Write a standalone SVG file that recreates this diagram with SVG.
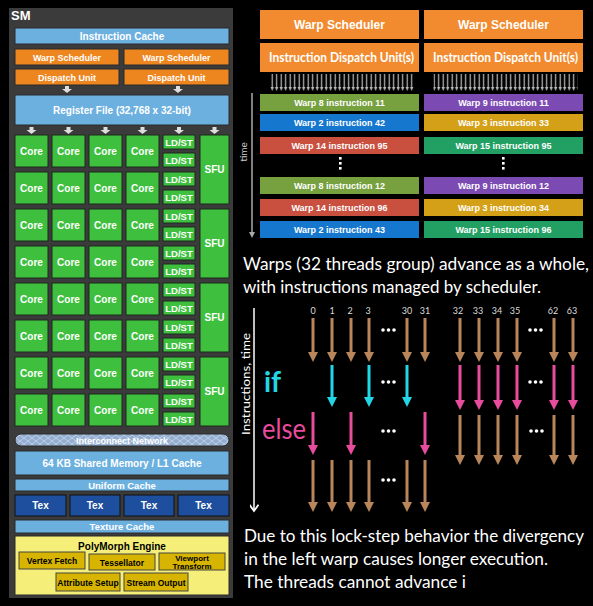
<svg xmlns="http://www.w3.org/2000/svg" width="593" height="606" viewBox="0 0 593 606">
<defs>
<style>
.sb{font-family:"Liberation Sans",Arial,sans-serif;font-weight:bold;text-anchor:middle}
.w{fill:#fff}
.k{fill:#000}
.lb{fill:#6cb0e0;stroke:#2a2a2a;stroke-width:1}
.or{fill:#ee8620;stroke:#2a2a2a;stroke-width:1}
.core{fill:#3ebf3e;stroke:#1c2a1c;stroke-width:1}
.tex{fill:#1d4f9e;stroke:#111;stroke-width:1}
.pm{fill:#d6b400;stroke:#444;stroke-width:1}
.ct{font-size:10px}
.ls{font-size:9.5px}
.cal{font-family:Lato,"Open Sans",sans-serif}
.bar{stroke:none}
.bt{font-size:9px}
.br{stroke:#b8865a;stroke-width:3;marker-end:url(#mBr)}
.cy{stroke:#22d6e6;stroke-width:3;marker-end:url(#mCy)}
.pk{stroke:#e84c9c;stroke-width:3;marker-end:url(#mPk)}
.num{font-family:Lato,"Open Sans",sans-serif;font-size:9px;fill:#ddd;text-anchor:middle}
.dot{fill:#fff}
</style>
<marker id="mBr" viewBox="0 0 10 10" refX="0" refY="5" markerWidth="10" markerHeight="10" markerUnits="userSpaceOnUse" orient="auto"><path d="M0,0 L10,5 L0,10 z" fill="#b8865a"/></marker>
<marker id="mCy" viewBox="0 0 10 10" refX="0" refY="5" markerWidth="10" markerHeight="10" markerUnits="userSpaceOnUse" orient="auto"><path d="M0,0 L10,5 L0,10 z" fill="#22d6e6"/></marker>
<marker id="mPk" viewBox="0 0 10 10" refX="0" refY="5" markerWidth="10" markerHeight="10" markerUnits="userSpaceOnUse" orient="auto"><path d="M0,0 L10,5 L0,10 z" fill="#e84c9c"/></marker>
<marker id="mGr" viewBox="0 0 10 10" refX="0" refY="5" markerWidth="6" markerHeight="6" markerUnits="userSpaceOnUse" orient="auto"><path d="M0,0 L10,5 L0,10 z" fill="#aaa"/></marker>
<marker id="mWh" viewBox="0 0 10 10" refX="8" refY="5" markerWidth="9" markerHeight="9" markerUnits="userSpaceOnUse" orient="auto"><path d="M1,0 L8,5 L1,10" fill="none" stroke="#fff" stroke-width="2"/></marker>
<pattern id="pArr" patternUnits="userSpaceOnUse" x="270" y="74" width="4.5" height="18"><rect x="1.6" y="0" width="1.2" height="14" fill="#bbb"/><path d="M0.5,13 L3.9,13 L2.2,17 z" fill="#bbb"/></pattern>
<pattern id="pNet" patternUnits="userSpaceOnUse" width="8" height="6"><rect width="8" height="6" fill="#93aed0"/><path d="M0,0 L8,6 M8,0 L0,6" stroke="#c6d6ea" stroke-width="0.8"/></pattern>
<path id="sArr" d="M-2,0 L2,0 L2,3 L5,3 L0,7 L-5,3 L-2,3 z" fill="#ddd"/>
</defs>
<rect width="593" height="606" fill="#000"/>

<!-- Left SM panel -->
<g id="sm">
<rect x="9" y="8" width="224" height="590" fill="#3b3b3b"/>
<text x="11" y="20" class="sb w" style="text-anchor:start;font-size:13px">SM</text>
</g>
<g id="icache"><rect class="lb" x="15" y="28" width="214" height="16"/><text class="sb w" x="122" y="40" font-size="10">Instruction Cache</text></g>
<g id="ws1"><rect class="or" x="15" y="49" width="104" height="16"/><text class="sb w" x="67" y="60.5" font-size="9">Warp Scheduler</text></g>
<g id="ws2"><rect class="or" x="124" y="49" width="105" height="16"/><text class="sb w" x="176.5" y="60.5" font-size="9">Warp Scheduler</text></g>
<g id="du1"><rect class="or" x="15" y="69" width="104" height="16"/><text class="sb w" x="67" y="80.5" font-size="9">Dispatch Unit</text></g>
<g id="du2"><rect class="or" x="124" y="69" width="105" height="16"/><text class="sb w" x="176.5" y="80.5" font-size="9">Dispatch Unit</text></g>
<g id="regfile"><rect class="lb" x="15" y="95" width="214" height="30"/><text class="sb w" x="122" y="113.5" font-size="10">Register File (32,768 x 32-bit)</text></g>

<g id="connectors-sm">
<use href="#sArr" x="67" y="86"/><use href="#sArr" x="178" y="86"/>
<use href="#sArr" x="31.5" y="127"/><use href="#sArr" x="68.5" y="127"/><use href="#sArr" x="105.5" y="127"/><use href="#sArr" x="142.5" y="127"/><use href="#sArr" x="179" y="127"/><use href="#sArr" x="214.5" y="127"/>
</g>

<g id="cores">
<g id="core-1"><rect class="core" x="15" y="135" width="33" height="32"/><text class="sb w ct" x="31.5" y="155">Core</text></g>
<g id="core-2"><rect class="core" x="52" y="135" width="33" height="32"/><text class="sb w ct" x="68.5" y="155">Core</text></g>
<g id="core-3"><rect class="core" x="89" y="135" width="33" height="32"/><text class="sb w ct" x="105.5" y="155">Core</text></g>
<g id="core-4"><rect class="core" x="126" y="135" width="33" height="32"/><text class="sb w ct" x="142.5" y="155">Core</text></g>
<g id="core-5"><rect class="core" x="15" y="172" width="33" height="32"/><text class="sb w ct" x="31.5" y="192">Core</text></g>
<g id="core-6"><rect class="core" x="52" y="172" width="33" height="32"/><text class="sb w ct" x="68.5" y="192">Core</text></g>
<g id="core-7"><rect class="core" x="89" y="172" width="33" height="32"/><text class="sb w ct" x="105.5" y="192">Core</text></g>
<g id="core-8"><rect class="core" x="126" y="172" width="33" height="32"/><text class="sb w ct" x="142.5" y="192">Core</text></g>
<g id="core-9"><rect class="core" x="15" y="209" width="33" height="32"/><text class="sb w ct" x="31.5" y="229">Core</text></g>
<g id="core-10"><rect class="core" x="52" y="209" width="33" height="32"/><text class="sb w ct" x="68.5" y="229">Core</text></g>
<g id="core-11"><rect class="core" x="89" y="209" width="33" height="32"/><text class="sb w ct" x="105.5" y="229">Core</text></g>
<g id="core-12"><rect class="core" x="126" y="209" width="33" height="32"/><text class="sb w ct" x="142.5" y="229">Core</text></g>
<g id="core-13"><rect class="core" x="15" y="246" width="33" height="32"/><text class="sb w ct" x="31.5" y="266">Core</text></g>
<g id="core-14"><rect class="core" x="52" y="246" width="33" height="32"/><text class="sb w ct" x="68.5" y="266">Core</text></g>
<g id="core-15"><rect class="core" x="89" y="246" width="33" height="32"/><text class="sb w ct" x="105.5" y="266">Core</text></g>
<g id="core-16"><rect class="core" x="126" y="246" width="33" height="32"/><text class="sb w ct" x="142.5" y="266">Core</text></g>
<g id="core-17"><rect class="core" x="15" y="283" width="33" height="32"/><text class="sb w ct" x="31.5" y="303">Core</text></g>
<g id="core-18"><rect class="core" x="52" y="283" width="33" height="32"/><text class="sb w ct" x="68.5" y="303">Core</text></g>
<g id="core-19"><rect class="core" x="89" y="283" width="33" height="32"/><text class="sb w ct" x="105.5" y="303">Core</text></g>
<g id="core-20"><rect class="core" x="126" y="283" width="33" height="32"/><text class="sb w ct" x="142.5" y="303">Core</text></g>
<g id="core-21"><rect class="core" x="15" y="320" width="33" height="32"/><text class="sb w ct" x="31.5" y="340">Core</text></g>
<g id="core-22"><rect class="core" x="52" y="320" width="33" height="32"/><text class="sb w ct" x="68.5" y="340">Core</text></g>
<g id="core-23"><rect class="core" x="89" y="320" width="33" height="32"/><text class="sb w ct" x="105.5" y="340">Core</text></g>
<g id="core-24"><rect class="core" x="126" y="320" width="33" height="32"/><text class="sb w ct" x="142.5" y="340">Core</text></g>
<g id="core-25"><rect class="core" x="15" y="357" width="33" height="32"/><text class="sb w ct" x="31.5" y="377">Core</text></g>
<g id="core-26"><rect class="core" x="52" y="357" width="33" height="32"/><text class="sb w ct" x="68.5" y="377">Core</text></g>
<g id="core-27"><rect class="core" x="89" y="357" width="33" height="32"/><text class="sb w ct" x="105.5" y="377">Core</text></g>
<g id="core-28"><rect class="core" x="126" y="357" width="33" height="32"/><text class="sb w ct" x="142.5" y="377">Core</text></g>
<g id="core-29"><rect class="core" x="15" y="394" width="33" height="32"/><text class="sb w ct" x="31.5" y="414">Core</text></g>
<g id="core-30"><rect class="core" x="52" y="394" width="33" height="32"/><text class="sb w ct" x="68.5" y="414">Core</text></g>
<g id="core-31"><rect class="core" x="89" y="394" width="33" height="32"/><text class="sb w ct" x="105.5" y="414">Core</text></g>
<g id="core-32"><rect class="core" x="126" y="394" width="33" height="32"/><text class="sb w ct" x="142.5" y="414">Core</text></g>
</g>

<g id="ldst">
<g id="ldst-1"><rect class="core" x="163" y="135" width="32" height="14"/><text class="sb w ls" x="179" y="145.5">LD/ST</text></g>
<g id="ldst-2"><rect class="core" x="163" y="153" width="32" height="14"/><text class="sb w ls" x="179" y="163.5">LD/ST</text></g>
<g id="ldst-3"><rect class="core" x="163" y="172" width="32" height="14"/><text class="sb w ls" x="179" y="182.5">LD/ST</text></g>
<g id="ldst-4"><rect class="core" x="163" y="190" width="32" height="14"/><text class="sb w ls" x="179" y="200.5">LD/ST</text></g>
<g id="ldst-5"><rect class="core" x="163" y="209" width="32" height="14"/><text class="sb w ls" x="179" y="219.5">LD/ST</text></g>
<g id="ldst-6"><rect class="core" x="163" y="227" width="32" height="14"/><text class="sb w ls" x="179" y="237.5">LD/ST</text></g>
<g id="ldst-7"><rect class="core" x="163" y="246" width="32" height="14"/><text class="sb w ls" x="179" y="256.5">LD/ST</text></g>
<g id="ldst-8"><rect class="core" x="163" y="264" width="32" height="14"/><text class="sb w ls" x="179" y="274.5">LD/ST</text></g>
<g id="ldst-9"><rect class="core" x="163" y="283" width="32" height="14"/><text class="sb w ls" x="179" y="293.5">LD/ST</text></g>
<g id="ldst-10"><rect class="core" x="163" y="301" width="32" height="14"/><text class="sb w ls" x="179" y="311.5">LD/ST</text></g>
<g id="ldst-11"><rect class="core" x="163" y="320" width="32" height="14"/><text class="sb w ls" x="179" y="330.5">LD/ST</text></g>
<g id="ldst-12"><rect class="core" x="163" y="338" width="32" height="14"/><text class="sb w ls" x="179" y="348.5">LD/ST</text></g>
<g id="ldst-13"><rect class="core" x="163" y="357" width="32" height="14"/><text class="sb w ls" x="179" y="367.5">LD/ST</text></g>
<g id="ldst-14"><rect class="core" x="163" y="375" width="32" height="14"/><text class="sb w ls" x="179" y="385.5">LD/ST</text></g>
<g id="ldst-15"><rect class="core" x="163" y="394" width="32" height="14"/><text class="sb w ls" x="179" y="404.5">LD/ST</text></g>
<g id="ldst-16"><rect class="core" x="163" y="412" width="32" height="14"/><text class="sb w ls" x="179" y="422.5">LD/ST</text></g>
</g>

<g id="sfu">
<g id="sfu-1"><rect class="core" x="200" y="135" width="29" height="69"/><text class="sb w ct" x="214.5" y="173">SFU</text></g>
<g id="sfu-2"><rect class="core" x="200" y="209" width="29" height="69"/><text class="sb w ct" x="214.5" y="247">SFU</text></g>
<g id="sfu-3"><rect class="core" x="200" y="283" width="29" height="69"/><text class="sb w ct" x="214.5" y="321">SFU</text></g>
<g id="sfu-4"><rect class="core" x="200" y="357" width="29" height="69"/><text class="sb w ct" x="214.5" y="395">SFU</text></g>
</g>

<g id="interconnect"><rect x="15" y="434" width="214" height="12" rx="6" fill="url(#pNet)" stroke="#2a2a2a"/><text class="sb w" x="122" y="443.5" font-size="9">Interconnect Network</text></g>
<g id="shmem"><rect class="lb" x="15" y="451" width="214" height="24"/><text class="sb w" x="122" y="466.5" font-size="10">64 KB Shared Memory / L1 Cache</text></g>
<g id="ucache"><rect class="lb" x="15" y="479" width="214" height="12"/><text class="sb w" x="122" y="488.5" font-size="9.5">Uniform Cache</text></g>
<g id="tex-1"><rect class="tex" x="15" y="495" width="51" height="21"/><text class="sb w ct" x="40.5" y="509">Tex</text></g>
<g id="tex-2"><rect class="tex" x="70" y="495" width="50" height="21"/><text class="sb w ct" x="95" y="509">Tex</text></g>
<g id="tex-3"><rect class="tex" x="124" y="495" width="50" height="21"/><text class="sb w ct" x="149" y="509">Tex</text></g>
<g id="tex-4"><rect class="tex" x="178" y="495" width="51" height="21"/><text class="sb w ct" x="203.5" y="509">Tex</text></g>
<g id="tcache"><rect class="lb" x="15" y="520" width="214" height="13"/><text class="sb w" x="122" y="530" font-size="9.5">Texture Cache</text></g>
<g id="polymorph"><rect x="15" y="536" width="214" height="59" fill="#f5ef7a" stroke="#2a2a2a"/><text class="sb k" x="122" y="550" font-size="10">PolyMorph Engine</text></g>
<g id="vfetch"><rect class="pm" x="19" y="552" width="66" height="17"/><text class="sb k" x="52" y="564" font-size="8.5">Vertex Fetch</text></g>
<g id="tess"><rect class="pm" x="89" y="554" width="66" height="16"/><text class="sb k" x="122" y="565.5" font-size="8.5">Tessellator</text></g>
<g id="viewport"><rect class="pm" x="159" y="553" width="66" height="17"/><text class="sb k" x="192" y="560.5" font-size="8">Viewport</text><text class="sb k" x="192" y="568.5" font-size="8">Transform</text></g>
<g id="attr"><rect class="pm" x="56" y="573" width="64" height="18"/><text class="sb k" x="88" y="585.5" font-size="8.5">Attribute Setup</text></g>
<g id="stream"><rect class="pm" x="124" y="573" width="64" height="18"/><text class="sb k" x="156" y="585.5" font-size="8.5">Stream Output</text></g>

<!-- Right top: scheduler -->
<g id="rws1"><rect x="260" y="10" width="159" height="29" fill="#f28b30"/><text class="sb w" x="339.5" y="29" font-size="12">Warp Scheduler</text></g>
<g id="rws2"><rect x="424" y="10" width="159" height="29" fill="#f28b30"/><text class="sb w" x="503.5" y="29" font-size="12">Warp Scheduler</text></g>
<g id="rdu1"><rect x="260" y="43" width="159" height="29" fill="#f28b30"/><text class="cal w" x="341.5" y="62" font-size="13" font-weight="bold" text-anchor="middle" textLength="145" lengthAdjust="spacingAndGlyphs">Instruction Dispatch Unit(s)</text></g>
<g id="rdu2"><rect x="424" y="43" width="159" height="29" fill="#f28b30"/><text class="cal w" x="505.5" y="62" font-size="13" font-weight="bold" text-anchor="middle" textLength="145" lengthAdjust="spacingAndGlyphs">Instruction Dispatch Unit(s)</text></g>
<g id="connectors-dispatch">
<rect x="270" y="74" width="144" height="18" fill="url(#pArr)"/>
<rect x="433.5" y="74" width="144" height="18" fill="url(#pArr)"/>
</g>

<g id="bars">
<g id="b-l1"><rect class="bar" x="260" y="94" width="159" height="17" fill="#77a03f"/><text class="sb w bt" x="339.5" y="106">Warp 8 instruction 11</text></g>
<g id="b-l2"><rect class="bar" x="260" y="114" width="159" height="17" fill="#1677cf"/><text class="sb w bt" x="339.5" y="126">Warp 2 instruction 42</text></g>
<g id="b-l3"><rect class="bar" x="260" y="137" width="159" height="17" fill="#c9503f"/><text class="sb w bt" x="339.5" y="149">Warp 14 instruction 95</text></g>
<g id="b-l4"><rect class="bar" x="260" y="177" width="159" height="17" fill="#77a03f"/><text class="sb w bt" x="339.5" y="189">Warp 8 instruction 12</text></g>
<g id="b-l5"><rect class="bar" x="260" y="199" width="159" height="17" fill="#c9503f"/><text class="sb w bt" x="339.5" y="211">Warp 14 instruction 96</text></g>
<g id="b-l6"><rect class="bar" x="260" y="221" width="159" height="17" fill="#1677cf"/><text class="sb w bt" x="339.5" y="233">Warp 2 instruction 43</text></g>
<g id="b-r1"><rect class="bar" x="424" y="94" width="159" height="17" fill="#7b4bb3"/><text class="sb w bt" x="503.5" y="106">Warp 9 instruction 11</text></g>
<g id="b-r2"><rect class="bar" x="424" y="114" width="159" height="17" fill="#d4a017"/><text class="sb w bt" x="503.5" y="126">Warp 3 instruction 33</text></g>
<g id="b-r3"><rect class="bar" x="424" y="137" width="159" height="17" fill="#22a063"/><text class="sb w bt" x="503.5" y="149">Warp 15 instruction 95</text></g>
<g id="b-r4"><rect class="bar" x="424" y="177" width="159" height="17" fill="#7b4bb3"/><text class="sb w bt" x="503.5" y="189">Warp 9 instruction 12</text></g>
<g id="b-r5"><rect class="bar" x="424" y="199" width="159" height="17" fill="#d4a017"/><text class="sb w bt" x="503.5" y="211">Warp 3 instruction 34</text></g>
<g id="b-r6"><rect class="bar" x="424" y="221" width="159" height="17" fill="#22a063"/><text class="sb w bt" x="503.5" y="233">Warp 15 instruction 96</text></g>
<g id="vdots">
<rect x="339" y="157" width="2.6" height="2.6" class="dot"/><rect x="339" y="162" width="2.6" height="2.6" class="dot"/><rect x="339" y="167" width="2.6" height="2.6" class="dot"/>
<rect x="502" y="157" width="2.6" height="2.6" class="dot"/><rect x="502" y="162" width="2.6" height="2.6" class="dot"/><rect x="502" y="167" width="2.6" height="2.6" class="dot"/>
</g>
</g>

<g id="time-axis">
<line x1="252" y1="93" x2="252" y2="232" stroke="#aaa" stroke-width="1.5" marker-end="url(#mGr)"/>
<text class="cal" x="244" y="152" font-size="10" fill="#ccc" text-anchor="middle" transform="rotate(-90 244 152)" dy="3">time</text>
</g>

<g id="caption1" class="cal" fill="#fff" font-size="17">
<text x="243" y="270" textLength="346" lengthAdjust="spacingAndGlyphs">Warps (32 threads group) advance as a whole,</text>
<text x="243" y="293" textLength="298" lengthAdjust="spacingAndGlyphs">with instructions managed by scheduler.</text>
</g>

<!-- Divergence diagram -->
<g id="axis2">
<line x1="254" y1="308" x2="254" y2="511" stroke="#fff" stroke-width="1.5" marker-end="url(#mWh)"/>
<text class="cal" x="246" y="384" font-size="11" fill="#fff" text-anchor="middle" transform="rotate(-90 246 384)" dy="4" textLength="102" lengthAdjust="spacingAndGlyphs">Instructions, time</text>
</g>
<g id="labels-if-else" class="cal">
<text x="264" y="392" font-size="28" fill="#22d6e6" font-weight="bold">if</text>
<text x="262" y="439" font-size="28" fill="#e84c9c" textLength="44" lengthAdjust="spacingAndGlyphs">else</text>
</g>
<g id="thread-ids">
<text class="num" x="313" y="314">0</text><text class="num" x="332" y="314">1</text><text class="num" x="350" y="314">2</text><text class="num" x="368" y="314">3</text><text class="num" x="407" y="314">30</text><text class="num" x="425" y="314">31</text>
<text class="num" x="458" y="314">32</text><text class="num" x="478" y="314">33</text><text class="num" x="497" y="314">34</text><text class="num" x="515" y="314">35</text><text class="num" x="553" y="314">62</text><text class="num" x="572" y="314">63</text>
</g>

<g id="connectors">
<line class="br" x1="313" y1="318" x2="313" y2="352"/><line class="br" x1="332" y1="318" x2="332" y2="352"/><line class="br" x1="351" y1="318" x2="351" y2="352"/><line class="br" x1="369" y1="318" x2="369" y2="352"/><line class="br" x1="407" y1="318" x2="407" y2="352"/><line class="br" x1="425" y1="318" x2="425" y2="352"/>
<line class="br" x1="460" y1="318" x2="460" y2="352"/><line class="br" x1="479" y1="318" x2="479" y2="352"/><line class="br" x1="498" y1="318" x2="498" y2="352"/><line class="br" x1="517" y1="318" x2="517" y2="352"/><line class="br" x1="554" y1="318" x2="554" y2="352"/><line class="br" x1="573" y1="318" x2="573" y2="352"/>
<line class="cy" x1="332" y1="365" x2="332" y2="397"/><line class="cy" x1="369" y1="365" x2="369" y2="397"/><line class="cy" x1="407" y1="365" x2="407" y2="397"/>
<line class="pk" x1="460" y1="365" x2="460" y2="400"/><line class="pk" x1="479" y1="365" x2="479" y2="400"/><line class="pk" x1="498" y1="365" x2="498" y2="400"/><line class="pk" x1="517" y1="365" x2="517" y2="400"/><line class="pk" x1="554" y1="365" x2="554" y2="400"/><line class="pk" x1="573" y1="365" x2="573" y2="400"/>
<line class="pk" x1="313" y1="412" x2="313" y2="445"/><line class="pk" x1="351" y1="412" x2="351" y2="445"/><line class="pk" x1="425" y1="412" x2="425" y2="445"/>
<line class="br" x1="460" y1="415" x2="460" y2="455"/><line class="br" x1="479" y1="415" x2="479" y2="455"/><line class="br" x1="498" y1="415" x2="498" y2="455"/><line class="br" x1="517" y1="415" x2="517" y2="455"/><line class="br" x1="554" y1="415" x2="554" y2="455"/><line class="br" x1="573" y1="415" x2="573" y2="455"/>
<line class="br" x1="313" y1="460" x2="313" y2="502"/><line class="br" x1="332" y1="460" x2="332" y2="502"/><line class="br" x1="351" y1="460" x2="351" y2="502"/><line class="br" x1="369" y1="460" x2="369" y2="502"/><line class="br" x1="407" y1="460" x2="407" y2="502"/><line class="br" x1="425" y1="460" x2="425" y2="502"/>
</g>

<g id="ellipses" class="dot">
<circle cx="383" cy="330" r="1.8"/><circle cx="388.5" cy="330" r="1.8"/><circle cx="394" cy="330" r="1.8"/>
<circle cx="530" cy="330" r="1.8"/><circle cx="535.5" cy="330" r="1.8"/><circle cx="541" cy="330" r="1.8"/>
<circle cx="383" cy="382" r="1.8"/><circle cx="388.5" cy="382" r="1.8"/><circle cx="394" cy="382" r="1.8"/>
<circle cx="530" cy="382" r="1.8"/><circle cx="535.5" cy="382" r="1.8"/><circle cx="541" cy="382" r="1.8"/>
<circle cx="383" cy="431" r="1.8"/><circle cx="388.5" cy="431" r="1.8"/><circle cx="394" cy="431" r="1.8"/>
<circle cx="531" cy="431" r="1.8"/><circle cx="536.5" cy="431" r="1.8"/><circle cx="542" cy="431" r="1.8"/>
<circle cx="383" cy="480" r="1.8"/><circle cx="388.5" cy="480" r="1.8"/><circle cx="394" cy="480" r="1.8"/>
</g>

<g id="caption2" class="cal" fill="#fff" font-size="17">
<text x="244" y="542" textLength="340" lengthAdjust="spacingAndGlyphs">Due to this lock-step behavior the divergency</text>
<text x="244" y="565" textLength="304" lengthAdjust="spacingAndGlyphs">in the left warp causes longer execution.</text>
<text x="244" y="588" textLength="222" lengthAdjust="spacingAndGlyphs">The threads cannot advance i</text>
</g>
</svg>
